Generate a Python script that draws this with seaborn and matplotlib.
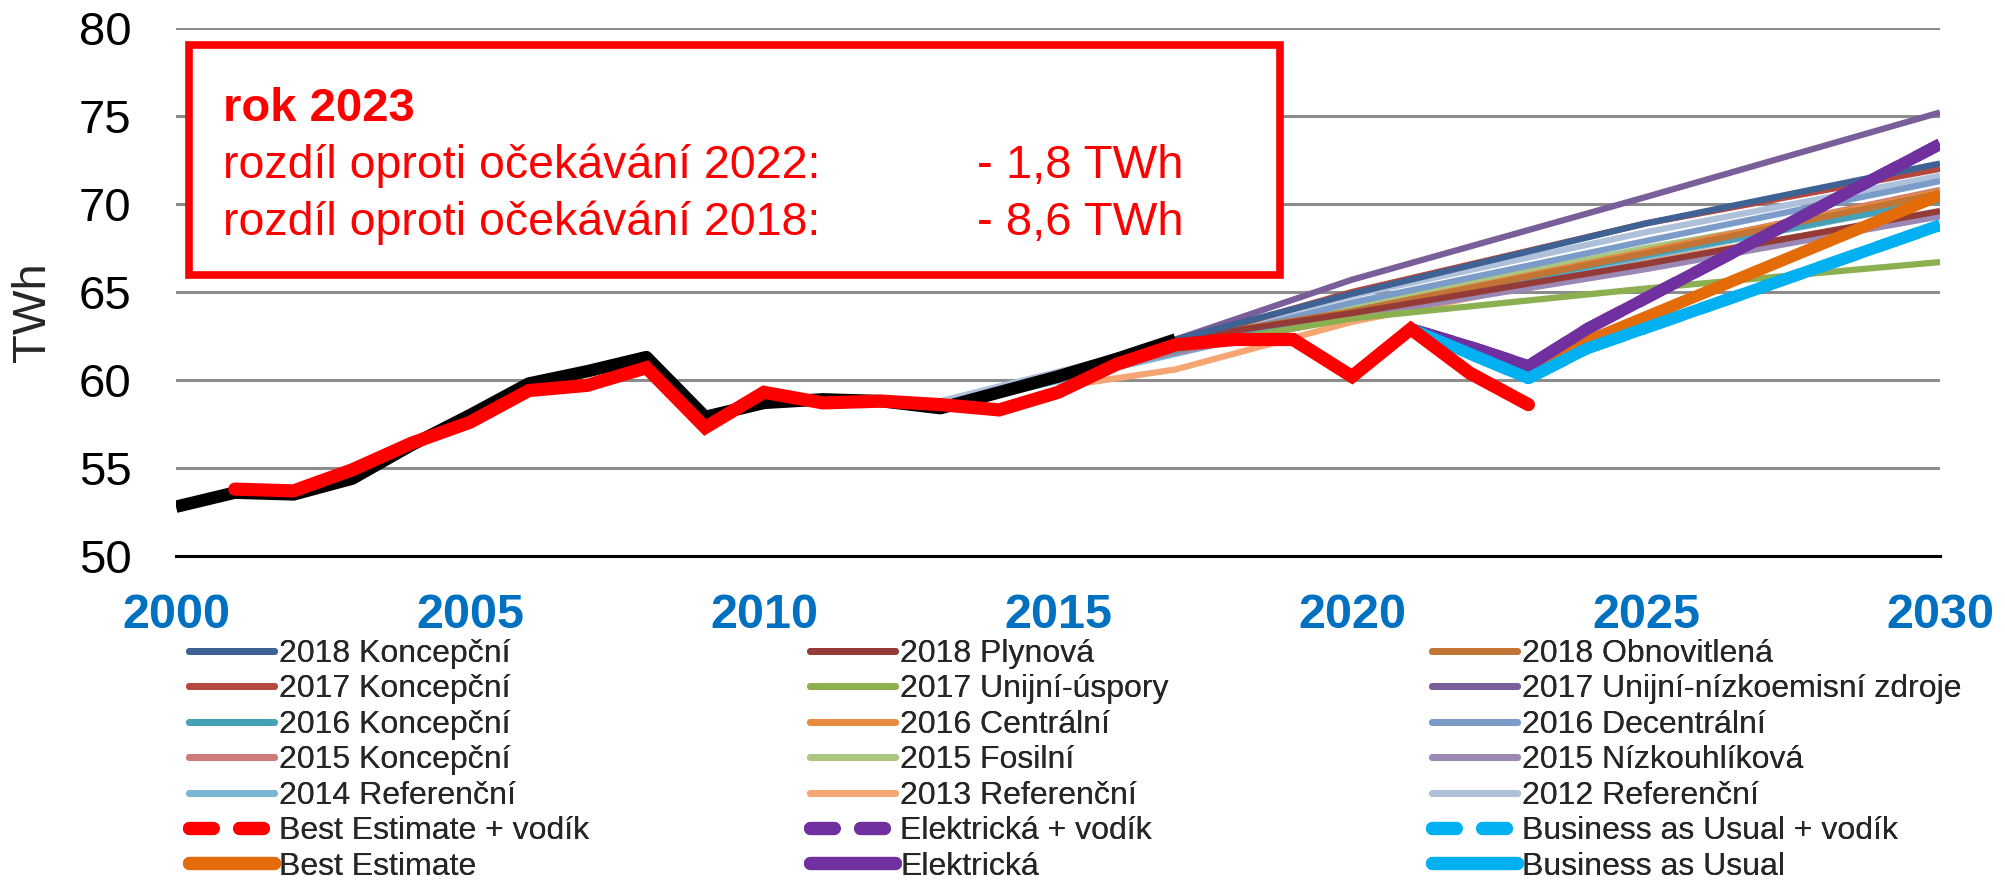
import matplotlib
matplotlib.use("Agg")
import matplotlib.pyplot as plt
from matplotlib.lines import Line2D
from matplotlib.patches import Rectangle
import seaborn as sns

# ==========================
# DATA
# ==========================

hist_years = list(range(2000, 2018))
hist_values = [52.8, 53.6, 53.5, 54.4, 56.3, 58.0, 59.8, 60.5, 61.3, 57.9,
               58.7, 58.9, 58.8, 58.4, 59.3, 60.2, 61.2, 62.3]

actual_years = list(range(2001, 2024))
actual_values = [53.8, 53.7, 54.9, 56.4, 57.6, 59.4, 59.7, 60.7, 57.3, 59.3,
                 58.7, 58.8, 58.6, 58.3, 59.3, 60.9, 62.0, 62.3, 62.3, 60.2,
                 62.9, 60.4, 58.6]

scenario_names = [
    "2018 Koncepční", "2018 Plynová", "2018 Obnovitlená",
    "2017 Koncepční", "2017 Unijní-úspory", "2017 Unijní-nízkoemisní zdroje",
    "2016 Koncepční", "2016 Centrální", "2016 Decentrální",
    "2015 Koncepční", "2015 Fosilní", "2015 Nízkouhlíková",
    "2014 Referenční", "2013 Referenční", "2012 Referenční",
]
scenario_colors = [
    "#3D6293", "#943B38", "#C27434",
    "#B5473F", "#8CAF50", "#7A5E9A",
    "#46A0B8", "#E88B3E", "#7B9BC8",
    "#CC7B79", "#AAC67F", "#9A87B3",
    "#7AB6CF", "#F5A673", "#AFC0DB",
]
scenario_years = [
    [2017, 2020, 2025, 2030], [2017, 2020, 2025, 2030], [2017, 2020, 2025, 2030],
    [2016, 2020, 2025, 2030], [2016, 2020, 2025, 2030], [2017, 2020, 2025, 2030],
    [2015, 2020, 2025, 2030], [2015, 2020, 2025, 2030], [2015, 2020, 2025, 2030],
    [2014, 2020, 2025, 2030], [2014, 2020, 2025, 2030], [2015, 2020, 2025, 2030],
    [2013, 2020, 2025, 2030], [2015, 2017, 2020, 2025, 2030], [2013, 2016, 2020, 2025, 2030],
]
scenario_values = [
    [62.3, 64.9, 68.9, 72.3], [62.3, 63.8, 66.6, 69.6], [62.3, 63.9, 67.2, 70.6],
    [61.2, 65.0, 68.9, 72.0], [61.2, 63.5, 65.2, 66.7], [62.3, 65.7, 70.4, 75.2],
    [60.2, 63.9, 67.1, 70.2], [60.2, 63.9, 67.3, 70.7], [60.2, 64.4, 67.9, 71.3],
    [59.4, 63.9, 67.3, 70.8], [59.4, 64.2, 67.5, 70.4], [60.2, 63.6, 66.3, 69.3],
    [58.4, 63.8, 67.0, 70.2], [59.6, 60.6, 63.3, 66.7, 69.5], [58.8, 61.3, 64.8, 68.4, 71.6],
]

new_years = [2021, 2022, 2023, 2024, 2030]
best_estimate = [62.9, 61.7, 60.4, 62.2, 70.5]
elektricka = [62.9, 61.9, 60.8, 62.9, 73.4]
business_as_usual = [62.9, 61.5, 60.1, 61.8, 68.8]

x_ticks = [2000, 2005, 2010, 2015, 2020, 2025, 2030]
y_ticks = [50, 55, 60, 65, 70, 75, 80]

RED = "#FF0000"
PURPLE = "#7030A0"
CYAN = "#00B0F0"
ORANGE = "#E36C09"

# ==========================
# PLOT
# ==========================

sns.set_style("white")
plt.rcParams["font.family"] = ["Liberation Sans", "DejaVu Sans"]

fig = plt.figure(figsize=(20.05, 8.82), dpi=100)
ax = fig.add_axes([176 / 2005, 1 - 556 / 882, 1764 / 2005, 528 / 882])

thin = 4.5
thick = 8.5

# scenario lines, last legend entry drawn first
for name, color, yrs, vals in reversed(list(zip(scenario_names, scenario_colors,
                                                scenario_years, scenario_values))):
    sns.lineplot(x=yrs, y=vals, color=color, linewidth=thin, ax=ax,
                 solid_capstyle="butt", zorder=3)

# new scenarios (+ vodík variants lie under the plain ones)
sns.lineplot(x=new_years, y=elektricka, color=PURPLE, linewidth=thick, ax=ax,
             linestyle="--", zorder=4)
sns.lineplot(x=new_years, y=business_as_usual, color=CYAN, linewidth=thick, ax=ax,
             linestyle="--", zorder=4)
sns.lineplot(x=new_years, y=best_estimate, color=ORANGE, linewidth=thick, ax=ax,
             solid_capstyle="butt", zorder=5)
sns.lineplot(x=new_years, y=elektricka, color=PURPLE, linewidth=thick, ax=ax,
             solid_capstyle="butt", zorder=6)
sns.lineplot(x=new_years, y=business_as_usual, color=CYAN, linewidth=thick, ax=ax,
             solid_capstyle="butt", zorder=7)

# history
sns.lineplot(x=hist_years, y=hist_values, color="black", linewidth=9, ax=ax,
             solid_capstyle="butt", zorder=8)
sns.lineplot(x=actual_years, y=actual_values, color=RED, linewidth=9.5, ax=ax,
             solid_capstyle="round", solid_joinstyle="miter", zorder=9)

ax.set_xlim(2000, 2030)
ax.set_ylim(50, 80)
ax.set_xticks(x_ticks)
ax.set_yticks(y_ticks)
ax.set_xticklabels([str(t) for t in x_ticks], fontsize=35, fontweight="bold", color="#0070C0")
ax.set_yticklabels([str(t) for t in y_ticks], fontsize=34, color="black")
ax.tick_params(axis="x", length=0, pad=27)
ax.tick_params(axis="y", length=0, pad=32)
ax.set_xlabel("")
ax.set_ylabel("")

ax.grid(axis="y", color="#8C8C8C", linewidth=2.2)
ax.grid(axis="x", visible=False)
for side in ["left", "right", "top"]:
    ax.spines[side].set_visible(False)
ax.spines["bottom"].set_color("black")
ax.spines["bottom"].set_linewidth(2.2)
ax.spines["bottom"].set_zorder(10)

fig.text(33 / 2005, 1 - 312 / 882, "TWh", rotation=90, ha="center", va="center", fontsize=34)

# annotation box
box = Rectangle((189 / 2005, 1 - 275 / 882), (1280 - 189) / 2005, (275 - 45) / 882,
                transform=fig.transFigure, facecolor="white", edgecolor=RED,
                linewidth=5.5, zorder=20)
fig.add_artist(box)
fig.text(223 / 2005, 1 - 121 / 882, "rok 2023", color=RED, fontsize=34,
         fontweight="bold", va="baseline", zorder=21)
fig.text(223 / 2005, 1 - 178 / 882, "rozdíl oproti očekávání 2022:", color=RED,
         fontsize=33.5, va="baseline", zorder=21)
fig.text(223 / 2005, 1 - 235 / 882, "rozdíl oproti očekávání 2018:", color=RED,
         fontsize=33.5, va="baseline", zorder=21)
fig.text(977 / 2005, 1 - 178 / 882, "- 1,8 TWh", color=RED, fontsize=34,
         va="baseline", zorder=21)
fig.text(977 / 2005, 1 - 235 / 882, "- 8,6 TWh", color=RED, fontsize=34,
         va="baseline", zorder=21)

# legend, three columns
def solid(color, lw):
    return Line2D([], [], color=color, linewidth=lw, solid_capstyle="round")

def dashed(color, lw):
    return Line2D([], [], color=color, linewidth=lw, linestyle=(0, (1.8, 2.0)),
                  dash_capstyle="round")

leg_thin = 5.0
leg_thick = 9.5
columns = [
    (189, [0, 3, 6, 9, 12], dashed(RED, leg_thick), "Best Estimate + vodík",
     solid(ORANGE, leg_thick), "Best Estimate"),
    (810, [1, 4, 7, 10, 13], dashed(PURPLE, leg_thick), "Elektrická + vodík",
     solid(PURPLE, leg_thick), "Elektrická"),
    (1432, [2, 5, 8, 11, 14], dashed(CYAN, leg_thick), "Business as Usual + vodík",
     solid(CYAN, leg_thick), "Business as Usual"),
]
for x_px, idx, h1, l1, h2, l2 in columns:
    handles = [solid(scenario_colors[i], leg_thin) for i in idx] + [h1, h2]
    labels = [scenario_names[i] for i in idx] + [l1, l2]
    leg = fig.legend(handles, labels, loc="upper left",
                     bbox_to_anchor=(x_px / 2005, 1 - 639 / 882),
                     frameon=False, fontsize=23, borderpad=0, borderaxespad=0,
                     handlelength=2.66, handletextpad=0.16, labelspacing=0.17)
    fig.add_artist(leg)

fig.savefig("out.png", dpi=100)
